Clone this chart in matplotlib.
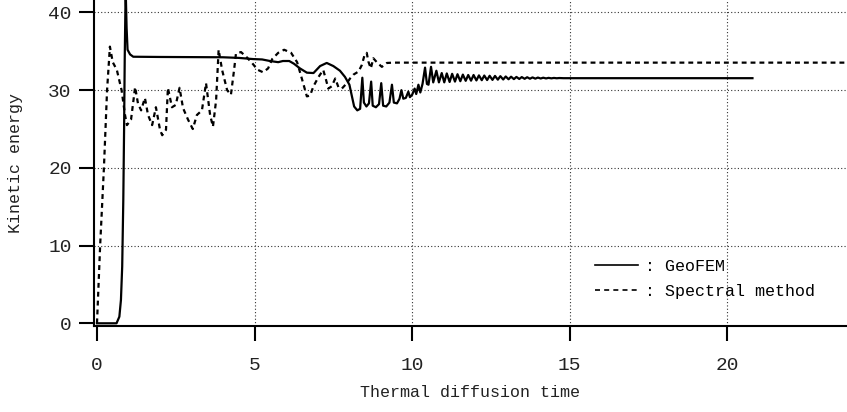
import matplotlib
matplotlib.use("Agg")
import matplotlib.pyplot as plt
from matplotlib.lines import Line2D

plt.rcParams['font.family'] = ['Liberation Mono', 'DejaVu Sans Mono']

# GeoFEM kinetic energy
geofem_t = [0.0, 0.62, 0.71, 0.76, 0.80, 0.835, 0.86, 0.88, 0.91, 0.94, 0.97, 1.05, 1.15,
            2.0, 3.0, 4.0, 4.5, 4.95, 5.24, 5.49, 5.75, 5.90, 6.10, 6.25, 6.44, 6.66,
            6.87, 7.08, 7.29, 7.50, 7.71, 7.87, 8.01, 8.09, 8.16, 8.26, 8.35,
            8.42, 8.47, 8.55, 8.63, 8.70, 8.75, 8.85, 8.95, 9.02, 9.08, 9.18, 9.28,
            9.36, 9.42, 9.52, 9.60, 9.66, 9.72, 9.80, 9.88, 9.93, 10.00, 10.08,
            10.13, 10.20, 10.26, 10.33, 10.41, 10.47, 10.52, 10.60, 10.67, 10.77,
            10.85, 10.94,
            11.02, 11.10, 11.19, 11.27, 11.36, 11.44, 11.53, 11.61, 11.70, 11.78,
            11.87, 11.95, 12.04, 12.12, 12.21, 12.29, 12.38, 12.46, 12.55, 12.63,
            12.72, 12.80, 12.89, 12.97, 13.06, 13.14, 13.23, 13.31, 13.40, 13.48,
            13.57, 13.65, 13.74, 13.82, 13.91, 13.99, 14.08, 14.16, 14.25, 14.33,
            14.42, 14.50, 14.59, 14.67, 14.80, 15.2, 20.8]
geofem_ke = [0.0, 0.0, 0.85, 3.0, 7.3, 15.9, 25.0, 34.0, 43.0, 38.0, 35.2, 34.6, 34.3,
             34.27, 34.25, 34.23, 34.15, 34.0, 33.95, 33.75, 33.6, 33.75, 33.75, 33.4, 32.8, 32.25,
             32.2, 33.1, 33.5, 33.1, 32.5, 31.7, 30.7, 29.2, 27.9, 27.4, 27.6,
             31.6, 28.4, 27.9, 28.3, 31.1, 28.0, 27.8, 28.2, 30.9, 28.0, 27.9, 28.4,
             30.7, 28.4, 28.3, 28.9, 30.0, 28.9, 29.0, 29.8, 29.1, 29.4, 30.2,
             29.5, 30.7, 29.7, 30.8, 32.9, 30.8, 30.7, 33.0, 31.0, 32.5,
             31.0, 32.2,
             31.0, 32.15, 31.05, 32.1, 31.1, 32.05, 31.15, 32.0, 31.2, 31.95,
             31.22, 31.95, 31.25, 31.9, 31.28, 31.88, 31.3, 31.85, 31.32, 31.83,
             31.35, 31.8, 31.37, 31.76, 31.4, 31.73, 31.42, 31.7, 31.44, 31.68,
             31.46, 31.66, 31.47, 31.64, 31.48, 31.62, 31.5, 31.6, 31.51, 31.58,
             31.52, 31.57, 31.53, 31.56, 31.54, 31.54, 31.54]

# Spectral method kinetic energy
spec_t = [0.0, 0.10, 0.22, 0.32, 0.41, 0.50, 0.63, 0.78, 0.89, 0.95, 1.08, 1.21, 1.30,
          1.40, 1.52, 1.62, 1.75, 1.87, 2.00, 2.07, 2.19, 2.25, 2.38, 2.50, 2.62,
          2.73, 2.89, 3.04, 3.17, 3.33, 3.46, 3.59, 3.68, 3.78, 3.86, 3.97, 4.13,
          4.25, 4.35, 4.41, 4.57, 4.76, 4.92, 5.02, 5.11, 5.27, 5.43, 5.56, 5.75,
          5.94, 6.16, 6.35, 6.50, 6.66, 6.76, 6.87, 7.03, 7.18, 7.27, 7.34, 7.45,
          7.56, 7.66, 7.77, 7.93, 8.03, 8.14, 8.30, 8.40, 8.49, 8.56, 8.61, 8.69,
          8.77, 8.90, 9.04, 9.20, 9.41, 24.0]
spec_ke = [0.0, 10.0, 20.0, 30.0, 35.6, 33.6, 32.6, 30.0, 26.8, 25.5, 26.2, 30.4, 28.3,
           27.4, 29.0, 26.8, 25.5, 27.8, 24.9, 24.2, 24.9, 30.3, 27.8, 28.1, 30.3,
           27.7, 26.2, 25.0, 26.8, 27.4, 30.9, 26.8, 25.3, 28.7, 35.2, 32.6, 30.0,
           29.4, 32.6, 34.7, 34.9, 34.2, 33.5, 33.0, 32.6, 32.3, 32.8, 34.0, 34.8,
           35.2, 34.8, 33.6, 31.5, 29.2, 29.3, 30.5, 31.7, 32.6, 31.3, 30.2, 30.5,
           31.5, 30.4, 30.2, 30.9, 31.5, 32.0, 32.4, 33.2, 34.5, 34.8, 33.7, 32.8,
           34.1, 33.5, 33.0, 33.5, 33.54, 33.54]

x_ticks = [0, 5, 10, 15, 20]
y_ticks = [0, 10, 20, 30, 40]

fig = plt.figure(figsize=(8.47, 4.12), dpi=100)
ax = fig.add_axes([0.1106, 0.2087, 0.8894, 0.7913])

dash = (0, (2.2, 1.8))
ax.plot(geofem_t, geofem_ke, color='black', lw=1.6, solid_joinstyle='round')
ax.plot(spec_t, spec_ke, color='black', lw=1.6, linestyle=dash)

ax.set_xlim(-0.105, 23.8)
ax.set_ylim(-0.35, 41.6)
ax.set_xticks(x_ticks)
ax.set_yticks(y_ticks)

ax.grid(True, color='#333333', linestyle=(0, (1, 2)), linewidth=0.8)
ax.set_axisbelow(True)
ax.xaxis.get_gridlines()[0].set_visible(False)
ax.yaxis.get_gridlines()[0].set_visible(False)

for side in ['top', 'right']:
    ax.spines[side].set_visible(False)
for side in ['left', 'bottom']:
    ax.spines[side].set_linewidth(1.5)

ax.tick_params(axis='both', direction='out', length=10.8, width=1.5,
               labelsize=14, labelcolor='#222222')
ax.tick_params(axis='y', pad=5)
ax.tick_params(axis='x', pad=11.5)

ax.set_xlabel('Thermal diffusion time', fontsize=12, color='#222222')
ax.set_ylabel('Kinetic energy', fontsize=12, color='#222222')
ax.xaxis.set_label_coords(0.5, -0.18)
ax.yaxis.set_label_coords(-0.094, 0.5)

handles = [Line2D([], [], color='black', lw=1.2),
           Line2D([], [], color='black', lw=1.2, linestyle=(0, (3, 2.5)))]
ax.legend(handles, [': GeoFEM', ': Spectral method'], loc='upper left',
          bbox_to_anchor=(0.665, 0.207), frameon=False, fontsize=12,
          handlelength=2.6, handletextpad=0.4, labelspacing=0.63,
          borderaxespad=0, borderpad=0)

fig.savefig('out.png', dpi=100)
